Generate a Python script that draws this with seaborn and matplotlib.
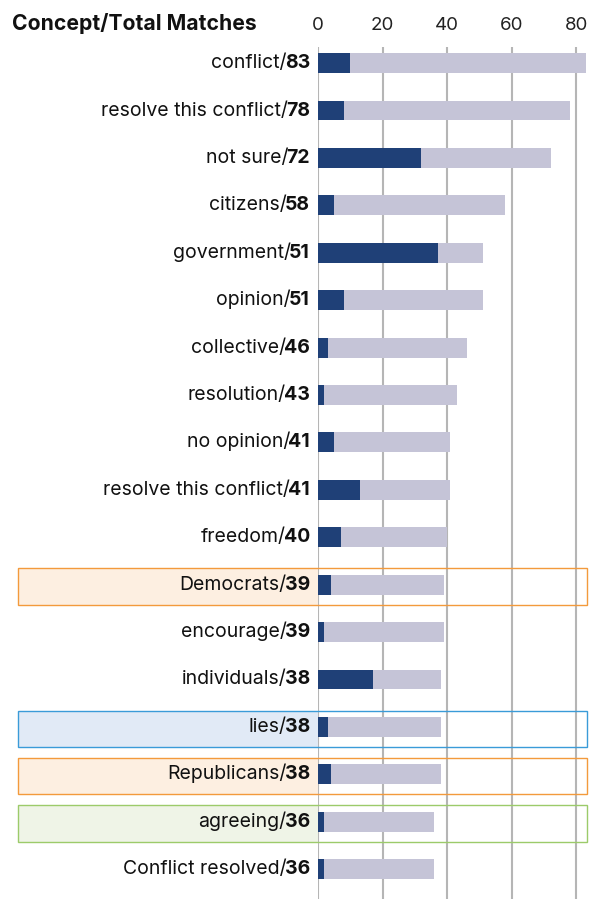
import matplotlib
matplotlib.use("Agg")
import matplotlib.pyplot as plt
import matplotlib.transforms as mtransforms
from matplotlib.patches import Rectangle
import seaborn as sns
import pandas as pd

concepts = ["conflict", "resolve this conflict", "not sure", "citizens", "government",
            "opinion", "collective", "resolution", "no opinion", "resolve this conflict",
            "freedom", "Democrats", "encourage", "individuals", "lies", "Republicans",
            "agreeing", "Conflict resolved"]
totals = [83, 78, 72, 58, 51, 51, 46, 43, 41, 41, 40, 39, 39, 38, 38, 38, 36, 36]
matches = [10, 8, 32, 5, 37, 8, 3, 2, 5, 13, 7, 4, 2, 17, 3, 4, 2, 2]
x_ticks = [0, 20, 40, 60, 80]
title = "Concept/Total Matches"
highlights = {"Democrats": "orange", "lies": "blue", "Republicans": "orange", "agreeing": "green"}
hl_colors = {"orange": ("#FDEFE1", "#F39A3C"),
             "blue": ("#E1EAF6", "#3A9BD8"),
             "green": ("#EFF4E7", "#9CCB6A")}

DARK = "#1F4077"
LIGHT = "#C5C4D7"

df = pd.DataFrame({
    "label": [f"{c}/{t}" for c, t in zip(concepts, totals)],
    "total": totals,
    "matches": matches,
})

sns.set_theme(style="white")
plt.rcParams["font.family"] = ["Inter", "DejaVu Sans"]

W, H = 598, 899
fig = plt.figure(figsize=(W / 100, H / 100), dpi=100)
fig.patch.set_facecolor("white")
ax = fig.add_axes([318 / W, 0, (590 - 318) / W, 1 - 47 / H])
ax.set_facecolor("none")

sns.barplot(data=df, x="total", y="label", color=LIGHT, width=0.42, saturation=1,
            linewidth=0, edgecolor="none", ax=ax, zorder=2)
sns.barplot(data=df, x="matches", y="label", color=DARK, width=0.42, saturation=1,
            linewidth=0, edgecolor="none", ax=ax, zorder=3)

n = len(concepts)
ax.set_xlim(0, 84.2)
ax.set_ylim(n - 1 + 0.63, -0.34)
ax.set_xticks(x_ticks)
ax.xaxis.tick_top()
ax.tick_params(axis="x", length=0, pad=9, labelsize=13.5, labelcolor="#222222")
ax.set_yticks([])
ax.set_xlabel("")
ax.set_ylabel("")
ax.grid(axis="x", color="#B5B5B5", linewidth=1.5, zorder=0)
ax.grid(axis="y", visible=False)
ax.set_axisbelow(True)
for s in ax.spines.values():
    s.set_visible(False)

trans = mtransforms.blended_transform_factory(ax.transAxes, ax.transData)
x_left = (18 - 318) / 272
x_right = (587 - 318) / 272
for i, c in enumerate(concepts):
    if c in highlights:
        fc, ec = hl_colors[highlights[c]]
        ax.add_patch(Rectangle((x_left, i - 0.345), -x_left, 0.77, transform=trans,
                               facecolor=fc, edgecolor="none", clip_on=False, zorder=0.5))
        ax.add_patch(Rectangle((x_left, i - 0.345), x_right - x_left, 0.77, transform=trans,
                               facecolor="none", edgecolor=ec, linewidth=1.0,
                               clip_on=False, zorder=4))

for i, (c, t) in enumerate(zip(concepts, totals)):
    num = ax.text((310 - 318) / 272, i, str(t), transform=trans, ha="right", va="center",
                  fontsize=14, fontweight="bold", color="#111111", zorder=5)
    ax.annotate(c + "/", xy=(0, 0), xycoords=num, xytext=(1.2, 0),
                textcoords="offset points", ha="right", va="bottom",
                fontsize=14, color="#111111", zorder=5, annotation_clip=False)

fig.text(12 / W, 1 - 23 / H, title, ha="left", va="center", fontsize=15.2,
         fontweight="bold", color="#111111")

fig.savefig("out.png", dpi=100)
